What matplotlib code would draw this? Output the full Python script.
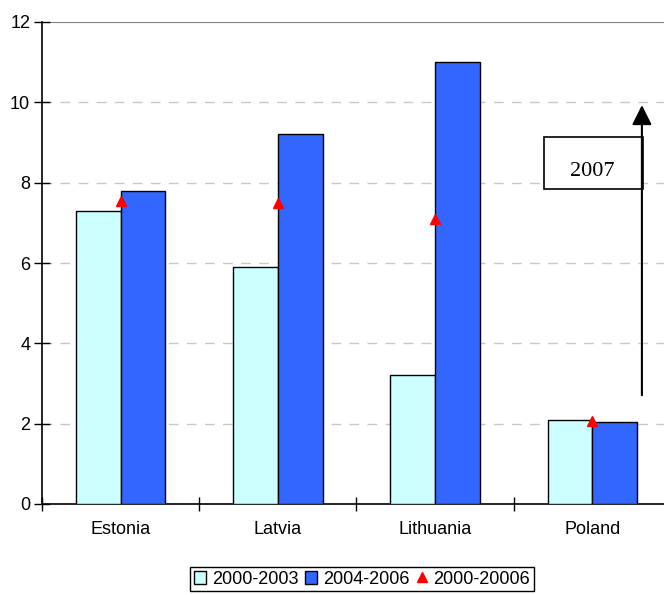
import numpy as np
import matplotlib.pyplot as plt
from matplotlib.patches import Rectangle

countries = ["Estonia", "Latvia", "Lithuania", "Poland"]
p2000_2003 = [7.3, 5.9, 3.2, 2.1]
p2004_2006 = [7.8, 9.2, 11.0, 2.05]
p2000_2006 = [7.55, 7.5, 7.1, 2.07]

plt.rcParams['font.family'] = ['Liberation Sans', 'DejaVu Sans']

fig = plt.figure(figsize=(6.64, 5.95), dpi=100)
# plot area runs a little past the right edge of the figure
ax = fig.add_axes([42 / 664, 1 - 504 / 595, 629 / 664, 482 / 595])

x = np.arange(len(countries))
w = 0.285
b1 = ax.bar(x - w / 2, p2000_2003, w, color="#CCFFFF", edgecolor="black", lw=1, label="2000-2003", zorder=3)
b2 = ax.bar(x + w / 2, p2004_2006, w, color="#3366FF", edgecolor="black", lw=1, label="2004-2006", zorder=3)
m, = ax.plot(x, p2000_2006, ls="none", marker="^", color="red", ms=7, label="2000-20006", zorder=4)

ax.set_xlim(-0.5, 3.5)
ax.set_ylim(0, 12)
ax.set_yticks(range(0, 13, 2))
ax.set_xticks(x)
ax.set_xticklabels(countries, fontsize=13)
ax.set_xticks(np.arange(-0.5, 3.6, 1), minor=True)
ax.tick_params(axis="x", which="major", length=0, pad=12)
ax.tick_params(axis="x", which="minor", direction="inout", length=10, width=1)
ax.tick_params(axis="y", direction="inout", length=11, width=1, labelsize=13, pad=3)

for v in range(2, 12, 2):
    ax.axhline(v, color="#c8c8c8", lw=1, ls=(0, (7, 6)), zorder=1)
ax.axhline(12, color="#808080", lw=1.5, zorder=1)

ax.spines["top"].set_visible(False)
ax.spines["right"].set_visible(False)
ax.spines["left"].set_linewidth(1.2)
ax.spines["bottom"].set_linewidth(1.2)

# 2007 callout
ax.add_patch(Rectangle((2.69, 7.84), 0.63, 1.3, facecolor="white", edgecolor="black", lw=1.2, zorder=5))
ax.text(3.0, 8.27, "2007", family="Liberation Serif", fontsize=16, ha="center", va="center", zorder=6)
ax.annotate("", xy=(3.315, 10.0), xytext=(3.315, 2.64),
            arrowprops=dict(arrowstyle="-|>", lw=1.5, color="black", mutation_scale=30), zorder=6)

fig.legend(handles=[b1, b2, m], loc="center", bbox_to_anchor=(362 / 664, 1 - 579 / 595), ncol=3,
           fontsize=13, frameon=True, fancybox=False, edgecolor="black", handlelength=0.7,
           handleheight=0.7, handletextpad=0.3, columnspacing=0.35, borderpad=0.2, framealpha=1)

fig.savefig("out.png", dpi=100)
